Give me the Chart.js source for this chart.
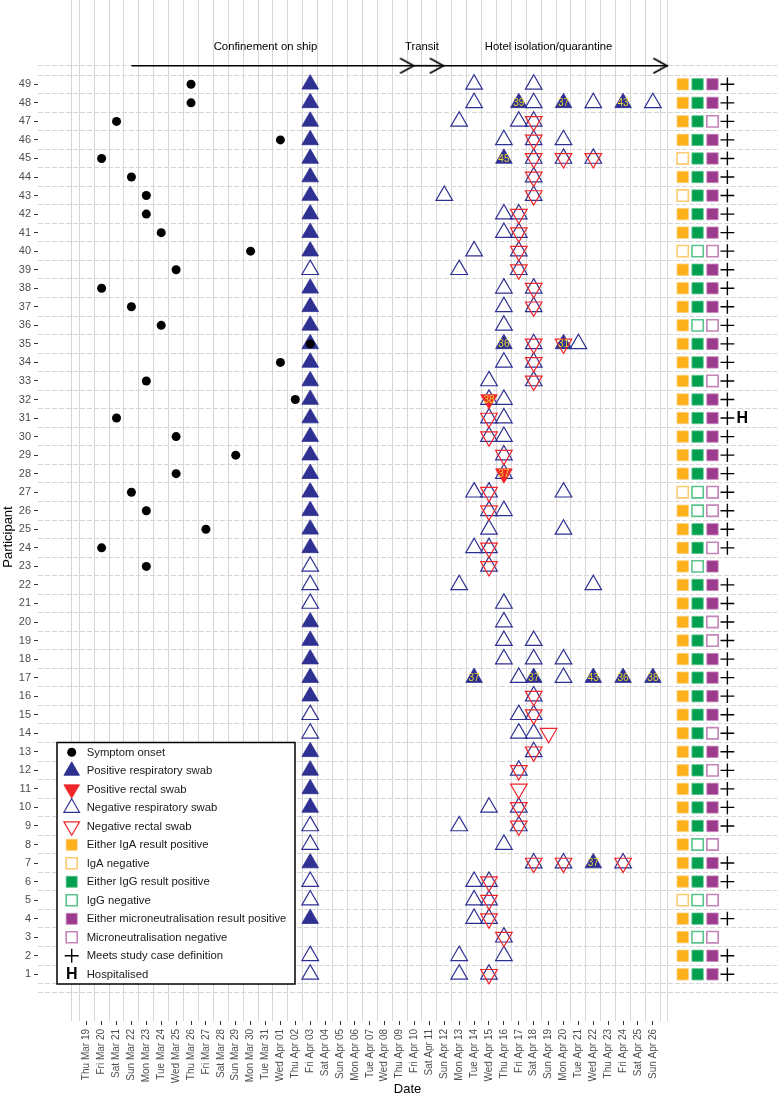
<!DOCTYPE html>
<html><head><meta charset="utf-8">
<script src="https://cdn.jsdelivr.net/npm/chart.js@4.4.1/dist/chart.umd.min.js"></script>
<style>html,body{margin:0;padding:0;background:#fff;}canvas{display:block;}</style>
</head><body>
<canvas id="c" width="777" height="1101"></canvas>
<script>
// ---------------- DATA ----------------
const dayLabels = ['Thu Mar 19','Fri Mar 20','Sat Mar 21','Sun Mar 22','Mon Mar 23','Tue Mar 24','Wed Mar 25','Thu Mar 26','Fri Mar 27','Sat Mar 28','Sun Mar 29','Mon Mar 30','Tue Mar 31','Wed Apr 01','Thu Apr 02','Fri Apr 03','Sat Apr 04','Sun Apr 05','Mon Apr 06','Tue Apr 07','Wed Apr 08','Thu Apr 09','Fri Apr 10','Sat Apr 11','Sun Apr 12','Mon Apr 13','Tue Apr 14','Wed Apr 15','Thu Apr 16','Fri Apr 17','Sat Apr 18','Sun Apr 19','Mon Apr 20','Tue Apr 21','Wed Apr 22','Thu Apr 23','Fri Apr 24','Sat Apr 25','Sun Apr 26'];
const participants = [1,2,3,4,5,6,7,8,9,10,11,12,13,14,15,16,17,18,19,20,21,22,23,24,25,26,27,28,29,30,31,32,33,34,35,36,37,38,39,40,41,42,43,44,45,46,47,48,49];

const symptomOnset = [[49,'Mar 26'],[48,'Mar 26'],[47,'Mar 21'],[46,'Apr 01'],[45,'Mar 20'],[44,'Mar 22'],[43,'Mar 23'],[42,'Mar 23'],[41,'Mar 24'],[40,'Mar 30'],[39,'Mar 25'],[38,'Mar 20'],[37,'Mar 22'],[36,'Mar 24'],[35,'Apr 03'],[34,'Apr 01'],[33,'Mar 23'],[32,'Apr 02'],[31,'Mar 21'],[30,'Mar 25'],[29,'Mar 29'],[28,'Mar 25'],[27,'Mar 22'],[26,'Mar 23'],[25,'Mar 27'],[24,'Mar 20'],[23,'Mar 23']];

const shipSwabDate = 'Apr 03';
const shipSwabPositive = [49,48,47,46,45,44,43,42,41,40,38,37,36,35,34,33,32,31,30,29,28,27,26,25,24,20,19,18,17,16,13,12,11,10,7,4];
const shipSwabNegative = [39,23,22,21,15,14,9,8,6,5,2,1];

// [participant, date, Ct value]
const hotelRespPositive = [[48,'Apr 17',39],[48,'Apr 20',37],[48,'Apr 24',43],[45,'Apr 16',45],[35,'Apr 16',36],[35,'Apr 20',31],[17,'Apr 14',37],[17,'Apr 18',37],[17,'Apr 22',43],[17,'Apr 24',36],[17,'Apr 26',38],[7,'Apr 22',37]];
const hotelRespNegative = [[49,'Apr 14'],[49,'Apr 18'],[48,'Apr 14'],[48,'Apr 18'],[48,'Apr 22'],[48,'Apr 26'],[47,'Apr 13'],[47,'Apr 17'],[47,'Apr 18'],[46,'Apr 16'],[46,'Apr 18'],[46,'Apr 20'],[45,'Apr 18'],[45,'Apr 20'],[45,'Apr 22'],[44,'Apr 18'],[43,'Apr 12'],[43,'Apr 18'],[42,'Apr 16'],[42,'Apr 17'],[41,'Apr 16'],[41,'Apr 17'],[40,'Apr 14'],[40,'Apr 17'],[39,'Apr 13'],[39,'Apr 17'],[38,'Apr 16'],[38,'Apr 18'],[37,'Apr 16'],[37,'Apr 18'],[36,'Apr 16'],[35,'Apr 18'],[35,'Apr 21'],[34,'Apr 16'],[34,'Apr 18'],[33,'Apr 15'],[33,'Apr 18'],[32,'Apr 15'],[32,'Apr 16'],[31,'Apr 15'],[31,'Apr 16'],[30,'Apr 15'],[30,'Apr 16'],[29,'Apr 16'],[28,'Apr 16'],[27,'Apr 14'],[27,'Apr 15'],[27,'Apr 20'],[26,'Apr 15'],[26,'Apr 16'],[25,'Apr 15'],[25,'Apr 20'],[24,'Apr 14'],[24,'Apr 15'],[23,'Apr 15'],[22,'Apr 13'],[22,'Apr 22'],[21,'Apr 16'],[20,'Apr 16'],[19,'Apr 16'],[19,'Apr 18'],[18,'Apr 16'],[18,'Apr 18'],[18,'Apr 20'],[17,'Apr 17'],[17,'Apr 20'],[16,'Apr 18'],[15,'Apr 17'],[15,'Apr 18'],[14,'Apr 17'],[14,'Apr 18'],[13,'Apr 18'],[12,'Apr 17'],[10,'Apr 15'],[10,'Apr 17'],[9,'Apr 13'],[9,'Apr 17'],[8,'Apr 16'],[7,'Apr 18'],[7,'Apr 20'],[7,'Apr 24'],[6,'Apr 14'],[6,'Apr 15'],[5,'Apr 14'],[5,'Apr 15'],[4,'Apr 14'],[4,'Apr 15'],[3,'Apr 16'],[2,'Apr 13'],[2,'Apr 16'],[1,'Apr 13'],[1,'Apr 15']];
const rectalPositive = [[32,'Apr 15',38],[28,'Apr 16',37]];
const rectalNegative = [[47,'Apr 18'],[46,'Apr 18'],[45,'Apr 18'],[45,'Apr 20'],[45,'Apr 22'],[44,'Apr 18'],[43,'Apr 18'],[42,'Apr 17'],[41,'Apr 17'],[40,'Apr 17'],[39,'Apr 17'],[38,'Apr 18'],[37,'Apr 18'],[35,'Apr 18'],[35,'Apr 20'],[34,'Apr 18'],[33,'Apr 18'],[31,'Apr 15'],[30,'Apr 15'],[29,'Apr 16'],[27,'Apr 15'],[26,'Apr 15'],[24,'Apr 15'],[23,'Apr 15'],[16,'Apr 18'],[15,'Apr 18'],[14,'Apr 19'],[13,'Apr 18'],[12,'Apr 17'],[11,'Apr 17'],[10,'Apr 17'],[9,'Apr 17'],[7,'Apr 18'],[7,'Apr 20'],[7,'Apr 24'],[6,'Apr 15'],[5,'Apr 15'],[4,'Apr 15'],[3,'Apr 16'],[1,'Apr 15']];

const igaNegative = [45,43,40,27,5];
const iggNegative = [40,36,27,26,23,8,5,3];
const mnNegative = [47,40,36,33,27,26,24,20,19,14,12,8,5,3];
const notMeetingCaseDefinition = [23,8,5,3];
const hospitalised = [31];

const phaseLabels = ['Confinement on ship','Transit','Hotel isolation/quarantine'];
const phaseStart = ['Mar 22','Apr 10','Apr 12'];
const phaseEnd = ['Apr 10','Apr 12','Apr 27'];

// ---------------- HELPERS / STYLE ----------------
function dayIndex(s){ const [m,d]=s.split(' '); const n=+d; return m==='Mar'? n-19 : m==='Apr'? n+12 : n+42; }
function pts(list){ return list.map(([p,d,ct])=>({x:dayIndex(d), y:p, ct})); }
const FONT = '"Liberation Sans", Arial, Helvetica, sans-serif';
const NAVY='#2E3192', RED='#F0262A', ORANGE='#FDB019', ORANGE_L='#FBCB72', GREEN='#00A04F', GREEN_L='#5BC38E', PURPLE='#9C3A8E', PURPLE_L='#C584BA';
const COL = {iga:40, igg:41, mn:42, cased:43, hosp:44};   // column positions (Apr 28 .. May 2)
const TRI_R = 9.6, SQ_R = 8, CROSS_R = 6.9;
const PHASE_ROW = 50, PHASE_LABEL_ROW = 51, PHASE_LABEL_X = [12, 22.5, 31];

function col(list, key, neg){ return participants.filter(p=> neg ? list.includes(p) : !list.includes(p)).map(p=>({x:COL[key], y:p})); }

function arrowHead(){
  const c=document.createElement('canvas'); c.width=36; c.height=20;
  const g=c.getContext('2d'); g.strokeStyle='#000'; g.lineWidth=1.7; g.lineJoin='miter';
  g.beginPath(); g.moveTo(18-14.5,10-7.5); g.lineTo(18-0.8,10); g.lineTo(18-14.5,10+7.5); g.stroke();
  return c;
}
const ARROW = arrowHead();

const xGrid=[-1]; for(let v=-0.5; v<=38.5; v+=1) xGrid.push(v); xGrid.push(39);
const yGrid=[0]; for(let v=0.5; v<=49.5; v+=1) yGrid.push(v); yGrid.push(50);

const sq = (label,data,fill,border,open)=>({label,data,pointStyle:'rect',pointRadius:SQ_R,pointBackgroundColor:open?'#ffffff':fill,pointBorderColor:border,pointBorderWidth:open?1.6:0.8,order:3});

const datasets = [
  {label:'Symptom onset', data: symptomOnset.map(([p,d])=>({x:dayIndex(d),y:p})), pointStyle:'circle', pointRadius:4.5, pointBackgroundColor:'#000', pointBorderColor:'#000', pointBorderWidth:0, order:0},
  {label:'Positive rectal swab', data: pts(rectalPositive), showCt:true, pointStyle:'triangle', pointRotation:180, pointRadius:TRI_R, pointBackgroundColor:RED, pointBorderColor:RED, pointBorderWidth:0.8, order:1},
  {label:'Negative rectal swab', data: pts(rectalNegative), pointStyle:'triangle', pointRotation:180, pointRadius:TRI_R, pointBackgroundColor:'rgba(0,0,0,0)', pointBorderColor:RED, pointBorderWidth:1.2, order:1},
  {label:'Positive respiratory swab', data: shipSwabPositive.map(p=>({x:dayIndex(shipSwabDate),y:p})).concat(pts(hotelRespPositive)), showCt:true, pointStyle:'triangle', pointRadius:TRI_R, pointBackgroundColor:NAVY, pointBorderColor:NAVY, pointBorderWidth:0.8, order:2},
  {label:'Negative respiratory swab', data: shipSwabNegative.map(p=>({x:dayIndex(shipSwabDate),y:p})).concat(pts(hotelRespNegative)), pointStyle:'triangle', pointRadius:TRI_R, pointBackgroundColor:'rgba(0,0,0,0)', pointBorderColor:NAVY, pointBorderWidth:1.2, order:2},
  sq('Either IgA result positive', col(igaNegative,'iga',false), ORANGE, ORANGE_L, false),
  sq('IgA negative', col(igaNegative,'iga',true), ORANGE, ORANGE_L, true),
  sq('Either IgG result positive', col(iggNegative,'igg',false), GREEN, GREEN_L, false),
  sq('IgG negative', col(iggNegative,'igg',true), GREEN, GREEN_L, true),
  sq('Either microneutralisation result positive', col(mnNegative,'mn',false), PURPLE, PURPLE_L, false),
  sq('Microneutralisation negative', col(mnNegative,'mn',true), PURPLE, PURPLE_L, true),
  {label:'Meets study case definition', data: col(notMeetingCaseDefinition,'cased',false), pointStyle:'cross', pointRadius:CROSS_R, pointBorderColor:'#000', pointBorderWidth:1.4, order:3},
  {label:'Hospitalised', data: hospitalised.map(p=>({x:COL.hosp,y:p})), textMark:'H', pointRadius:0, order:3}
];
phaseLabels.forEach((lab,i)=>{
  datasets.push({label:lab, type:'scatter', showLine:true, data:[{x:dayIndex(phaseStart[i]),y:PHASE_ROW},{x:dayIndex(phaseEnd[i]),y:PHASE_ROW}], borderColor:'#000', borderWidth:1.7, pointStyle:ARROW, pointRadius:[0,6], pointBorderWidth:0, order:4});
});

// ---------------- PLUGINS ----------------
const marksPlugin = {
  id:'marks',
  afterDatasetsDraw(chart){
    const ctx=chart.ctx; ctx.save();
    chart.data.datasets.forEach((ds,i)=>{
      const meta=chart.getDatasetMeta(i);
      if(ds.showCt){
        ctx.font='10px '+FONT; ctx.fillStyle='#E9D630'; ctx.textAlign='center'; ctx.textBaseline='middle';
        meta.data.forEach((el,j)=>{ const ct=ds.data[j].ct; if(ct!=null) ctx.fillText(String(ct), el.x, el.y+0.5); });
      }
      if(ds.textMark){
        ctx.font='bold 16px '+FONT; ctx.fillStyle='#000'; ctx.textAlign='center'; ctx.textBaseline='middle';
        meta.data.forEach(el=>ctx.fillText(ds.textMark, el.x, el.y+0.5));
      }
    });
    const xs=chart.scales.x, ys=chart.scales.y;
    ctx.font='11.3px '+FONT; ctx.fillStyle='#000'; ctx.textAlign='center'; ctx.textBaseline='middle';
    phaseLabels.forEach((lab,i)=>ctx.fillText(lab, xs.getPixelForValue(PHASE_LABEL_X[i]), ys.getPixelForValue(PHASE_LABEL_ROW)));
    ctx.restore();
  }
};

const legendItems = [
  {t:'Symptom onset', s:'circle', r:4.5, f:'#000', b:'#000', w:0},
  {t:'Positive respiratory swab', s:'triangle', r:9, f:NAVY, b:NAVY, w:0.8},
  {t:'Positive rectal swab', s:'triangle', rot:180, r:9, f:RED, b:RED, w:0.8},
  {t:'Negative respiratory swab', s:'triangle', r:9, f:'rgba(0,0,0,0)', b:NAVY, w:1.2},
  {t:'Negative rectal swab', s:'triangle', rot:180, r:9, f:'rgba(0,0,0,0)', b:RED, w:1.2},
  {t:'Either IgA result positive', s:'rect', r:7.8, f:ORANGE, b:ORANGE_L, w:0.8},
  {t:'IgA negative', s:'rect', r:7.8, f:'#fff', b:ORANGE_L, w:1.6},
  {t:'Either IgG result positive', s:'rect', r:7.8, f:GREEN, b:GREEN_L, w:0.8},
  {t:'IgG negative', s:'rect', r:7.8, f:'#fff', b:GREEN_L, w:1.6},
  {t:'Either microneutralisation result positive', s:'rect', r:7.8, f:PURPLE, b:PURPLE_L, w:0.8},
  {t:'Microneutralisation negative', s:'rect', r:7.8, f:'#fff', b:PURPLE_L, w:1.6},
  {t:'Meets study case definition', s:'cross', r:7, f:'#000', b:'#000', w:1.4},
  {t:'Hospitalised', s:'H'}
];
const legendPlugin = {
  id:'customLegend',
  afterDraw(chart){
    const ctx=chart.ctx; ctx.save();
    const L=57, T=742.5, W=238, H=241.5;
    ctx.fillStyle='#fff'; ctx.fillRect(L,T,W,H);
    ctx.strokeStyle='#000'; ctx.lineWidth=1.5; ctx.strokeRect(L,T,W,H);
    legendItems.forEach((it,i)=>{
      const y=752.3+i*18.5, x=71.7;
      if(it.s==='H'){ ctx.font='bold 16px '+FONT; ctx.fillStyle='#000'; ctx.textAlign='center'; ctx.textBaseline='middle'; ctx.fillText('H',x,y+0.5); }
      else { ctx.fillStyle=it.f; ctx.strokeStyle=it.b; ctx.lineWidth=it.w;
        Chart.helpers.drawPoint(ctx,{pointStyle:it.s, rotation:it.rot||0, radius:it.r, borderWidth:it.w},x,y); }
      ctx.font='11.3px '+FONT; ctx.fillStyle='#1a1a1a'; ctx.textAlign='left'; ctx.textBaseline='middle';
      ctx.fillText(it.t, 86.7, y+0.5);
    });
    ctx.save(); ctx.translate(8.5, 537); ctx.rotate(-Math.PI/2);
    ctx.font='13px '+FONT; ctx.fillStyle='#000'; ctx.textAlign='center'; ctx.textBaseline='middle';
    ctx.fillText('Participant',0,0); ctx.restore();
    ctx.restore();
  }
};

// ---------------- CHART ----------------
const XMIN=-3.27, XMAX=46.33, YMIN=-1.5186, YMAX=53.546;
const noPad = s => { s.paddingTop=0; s.paddingBottom=0; s.paddingLeft=0; s.paddingRight=0; };
new Chart(document.getElementById('c'), {
  type:'scatter',
  data:{datasets},
  options:{
    responsive:false, animation:false, devicePixelRatio:1, events:[],
    layout:{padding:0, autoPadding:false},
    plugins:{legend:{display:false}, tooltip:{enabled:false}},
    scales:{
      x:{type:'linear', position:'bottom', min:XMIN, max:XMAX,
         afterBuildTicks:s=>{ s.ticks = dayLabels.map((_,i)=>({value:i})); },
         afterFit:s=>{ s.height=80; noPad(s); },
         ticks:{autoSkip:false, minRotation:90, maxRotation:90, padding:4, color:'#4d4d4d', font:{family:FONT,size:10}, callback:v=>dayLabels[v]||''},
         grid:{display:true, drawOnChartArea:false, drawTicks:true, tickLength:4, tickColor:'#333', tickWidth:1},
         border:{display:false},
         title:{display:true, text:'Date', color:'#000', font:{family:FONT,size:13}, padding:{top:0,bottom:4}}},
      y:{type:'linear', position:'left', min:YMIN, max:YMAX,
         afterBuildTicks:s=>{ s.ticks = participants.map(v=>({value:v})); },
         afterFit:s=>{ s.width=38; noPad(s); },
         ticks:{autoSkip:false, padding:3, color:'#4d4d4d', font:{family:FONT,size:11}},
         grid:{display:true, drawOnChartArea:false, drawTicks:true, tickLength:4, tickColor:'#333', tickWidth:1},
         border:{display:false}},
      xg:{type:'linear', position:'top', min:XMIN, max:XMAX,
         afterBuildTicks:s=>{ s.ticks = xGrid.map(v=>({value:v})); },
         afterFit:s=>{ s.height=0; noPad(s); },
         ticks:{display:false}, grid:{color:'#d6d6d6', lineWidth:1, drawTicks:false}, border:{display:false}},
      yg:{type:'linear', position:'right', min:YMIN, max:YMAX,
         afterBuildTicks:s=>{ s.ticks = yGrid.map(v=>({value:v})); },
         afterFit:s=>{ s.width=0; noPad(s); },
         ticks:{display:false}, grid:{color:'#d6d6d6', lineWidth:1, drawTicks:false}, border:{display:false, dash:[5,2]}}
    }
  },
  plugins:[marksPlugin, legendPlugin]
});
</script>
</body></html>
